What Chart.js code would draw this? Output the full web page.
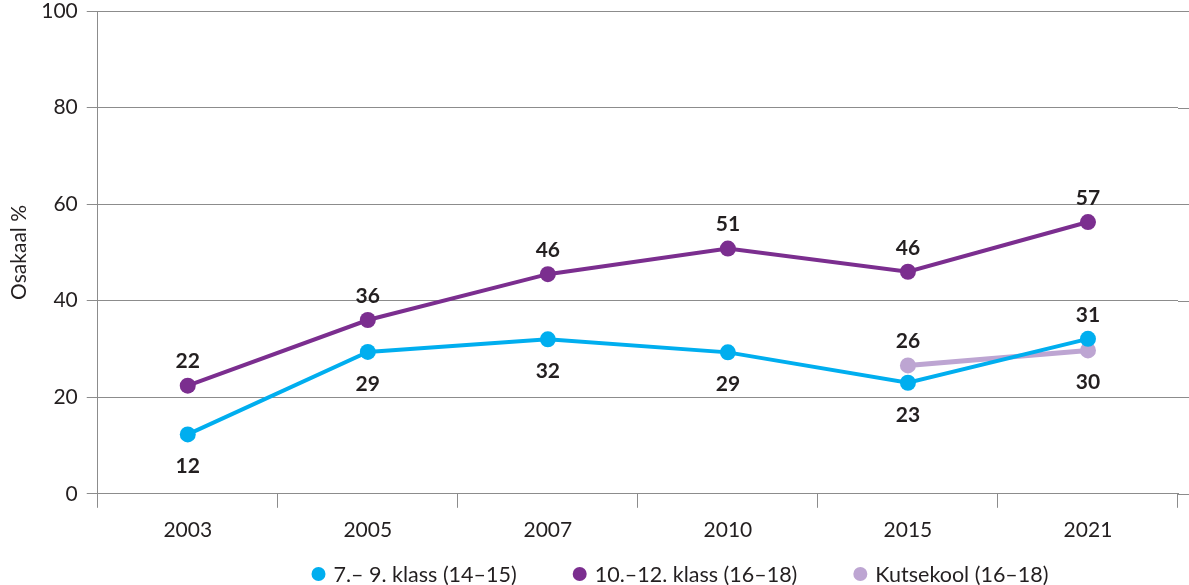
<!DOCTYPE html>
<html><head><meta charset="utf-8">
<script src="https://cdn.jsdelivr.net/npm/chart.js@4/dist/chart.umd.min.js"></script>
<style>html,body{margin:0;padding:0;background:#fff}#wrap{width:1189px;height:585px;position:relative}</style>
</head><body><div id="wrap"><canvas id="c"></canvas></div>
<script>
const years = ['2003', '2005', '2007', '2010', '2015', '2021'];
const seriesNames = ['7.\u2013 9. klass (14\u201315)', '10.\u201312. klass (16\u201318)', 'Kutsekool (16\u201318)'];
const grade7to9 = [12.3, 29.4, 32.0, 29.3, 23.0, 32.1];
const grade7to9Labels = ['12', '29', '32', '29', '23', '31'];
const grade10to12 = [22.4, 36.0, 45.5, 50.8, 46.0, 56.3];
const grade10to12Labels = ['22', '36', '46', '51', '46', '57'];
const vocational = [null, null, null, null, 26.6, 29.7];
const vocationalLabels = [null, null, null, null, '26', '30'];
const yTicks = [0, 20, 40, 60, 80, 100];
const yTitle = 'Osakaal %';

const FONT = 'Lato, "Open Sans", sans-serif';
const TEXT = '#231F20';
const GRID = '#8c8c8c';
const COLORS = ['#00AEEF', '#7B2E8F', '#BDA5D2'];

const labelSets = [
  {labels: grade7to9Labels, pos: ['below','below','below','below','below','above']},
  {labels: grade10to12Labels, pos: ['above','above','above','above','above','above']},
  {labels: vocationalLabels, pos: [null,null,null,null,'above','below']}
];

const valueLabels = {
  id: 'valueLabels',
  afterDatasetsDraw(chart) {
    const ctx = chart.ctx;
    ctx.save();
    ctx.font = 'bold 21px ' + FONT;
    ctx.fillStyle = TEXT;
    ctx.textAlign = 'center';
    ctx.textBaseline = 'middle';
    chart.data.datasets.forEach((ds, di) => {
      const meta = chart.getDatasetMeta(di);
      const set = labelSets[di];
      meta.data.forEach((pt, i) => {
        const txt = set.labels[i];
        if (txt == null || ds.data[i] == null) return;
        const off = set.pos[i] === 'above' ? -24 : 32;
        ctx.fillText(txt, pt.x, pt.y + off);
      });
    });
    ctx.restore();
  }
};

// extend horizontal gridlines to the right edge of the canvas
const gridExtend = {
  id: 'gridExtend',
  beforeDatasetsDraw(chart) {
    const {ctx, chartArea, scales} = chart;
    ctx.save();
    ctx.strokeStyle = GRID;
    ctx.lineWidth = 1;
    scales.y.ticks.forEach(t => {
      const y = Math.round(scales.y.getPixelForValue(t.value)) + 0.5;
      ctx.beginPath();
      ctx.moveTo(chartArea.right, y);
      ctx.lineTo(chart.width, y);
      ctx.stroke();
    });
    ctx.restore();
  }
};

const bottomLegend = {
  id: 'bottomLegend',
  afterDraw(chart) {
    const ctx = chart.ctx;
    ctx.save();
    ctx.font = '21.5px ' + FONT;
    ctx.textBaseline = 'middle';
    ctx.textAlign = 'left';
    const r = 7, gapDot = 8, gapItem = 56;
    const widths = chart.data.datasets.map(d => 2 * r + gapDot + ctx.measureText(d.label).width);
    const total = widths.reduce((a, b) => a + b, 0) + gapItem * (widths.length - 1);
    let x = 680 - total / 2;
    const y = 574;
    chart.data.datasets.forEach((d, i) => {
      ctx.fillStyle = d.borderColor;
      ctx.beginPath();
      ctx.arc(x + r, y, r, 0, Math.PI * 2);
      ctx.fill();
      ctx.fillStyle = TEXT;
      ctx.fillText(d.label, x + 2 * r + gapDot, y + 1);
      x += widths[i] + gapItem;
    });
    ctx.restore();
  }
};

function ds(label, data, color, width) {
  return {
    label, data,
    borderColor: color, backgroundColor: color,
    borderWidth: width,
    pointRadius: 8, pointHoverRadius: 8,
    pointBackgroundColor: color, pointBorderWidth: 0,
    tension: 0, spanGaps: false, clip: false
  };
}

new Chart(document.getElementById('c'), {
  type: 'line',
  data: {
    labels: years,
    datasets: [
      ds(seriesNames[0], grade7to9, COLORS[0], 4),
      ds(seriesNames[1], grade10to12, COLORS[1], 4),
      ds(seriesNames[2], vocational, COLORS[2], 5)
    ]
  },
  options: {
    responsive: true,
    maintainAspectRatio: false,
    animation: false,
    layout: {autoPadding: false, padding: {top: 0, right: 11, bottom: 32, left: 5}},
    plugins: {
      tooltip: {enabled: false},
      legend: {display: false}
    },
    scales: {
      x: {
        offset: true,
        grid: {offset: true, drawOnChartArea: false, drawTicks: true, tickLength: 14, color: GRID},
        border: {color: GRID, width: 1},
        ticks: {color: TEXT, font: {family: FONT, size: 21}, padding: 10}
      },
      y: {
        min: 0, max: 100,
        afterBuildTicks(scale) { scale.ticks = yTicks.map(v => ({value: v})); },
        grid: {color: GRID, drawTicks: true, tickLength: 11},
        border: {color: GRID, width: 1},
        ticks: {color: TEXT, font: {family: FONT, size: 21, lineHeight: 0.2}, padding: 9},
        title: {display: true, text: yTitle, color: TEXT, font: {family: FONT, size: 21}, padding: {top: 2, bottom: 0}}
      }
    }
  },
  plugins: [gridExtend, valueLabels, bottomLegend]
});
</script>
</body></html>
